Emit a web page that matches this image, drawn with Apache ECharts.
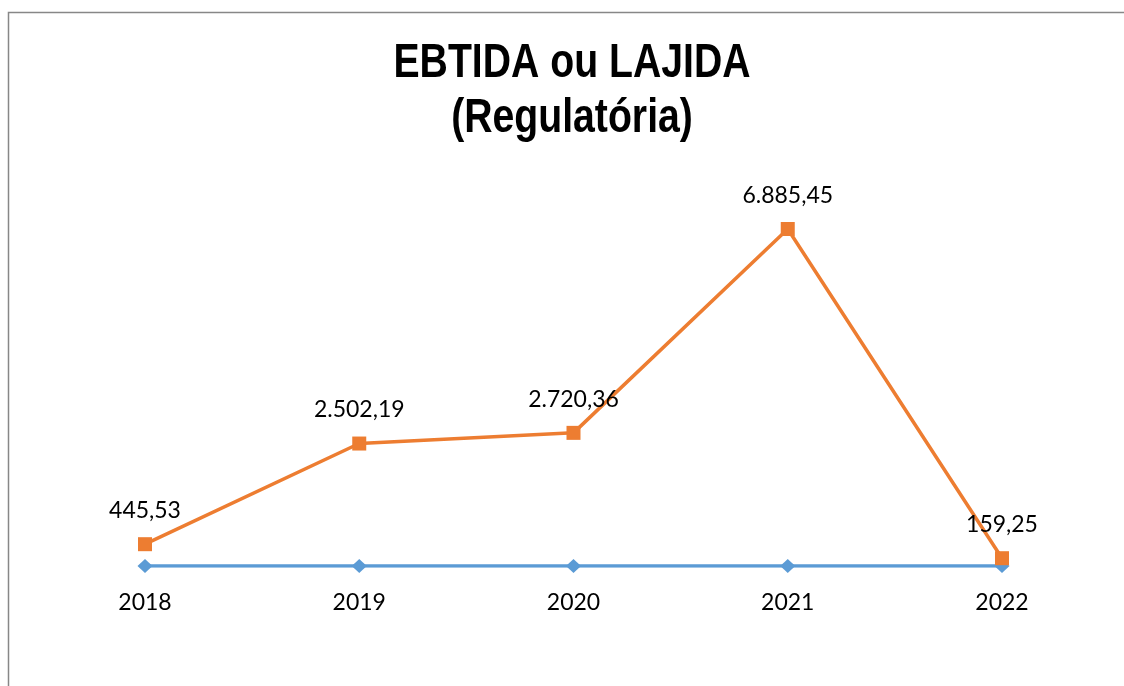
<!DOCTYPE html>
<html>
<head>
<meta charset="utf-8">
<script src="https://cdn.jsdelivr.net/npm/echarts@6/dist/echarts.min.js"></script>
<style>
  html, body { margin: 0; padding: 0; background: #fff; }
  #chart { width: 1124px; height: 686px; }
</style>
</head>
<body>
<div id="chart"></div>
<script>
const years = ['2018', '2019', '2020', '2021', '2022']
const lajida = [445.53, 2502.19, 2720.36, 6885.45, 159.25]
const baseline = [0, 0, 0, 0, 0]
const titleLines = ['EBTIDA ou LAJIDA', '(Regulatória)']

// 1234.5 -> "1.234,50"
function fmtBR (v) {
  const parts = v.toFixed(2).split('.')
  parts[0] = parts[0].replace(/\B(?=(\d{3})+(?!\d))/g, '.')
  return parts.join(',')
}

// condensed bold title, narrow font is not installed so squeeze it
const titleText = titleLines.map((t, i) => ({
  type: 'text',
  x: 572,
  y: 63 + i * 55,
  scaleX: 0.8,
  style: {
    text: t,
    font: 'bold 49px "Liberation Sans", Arial, sans-serif',
    fill: '#000',
    align: 'center',
    verticalAlign: 'middle'
  }
}))

const chart = echarts.init(document.getElementById('chart'))
chart.setOption({
  animation: false,
  graphic: [{
    type: 'polyline',
    shape: { points: [[8.5, 686], [8.5, 12.5], [1124, 12.5]] },
    style: { stroke: '#878787', lineWidth: 1.5, fill: null }
  }].concat(titleText),
  grid: { left: 145, right: 122, top: 223.4, bottom: 120 },
  xAxis: {
    type: 'category',
    data: years,
    boundaryGap: false,
    axisLine: { show: false },
    axisTick: { show: false },
    axisLabel: {
      margin: 25,
      fontFamily: 'Lato',
      fontSize: 23,
      color: '#000'
    }
  },
  yAxis: {
    type: 'value',
    min: 0,
    max: 7000,
    show: false,
    splitLine: { show: false }
  },
  series: [
    {
      type: 'line',
      data: baseline,
      symbol: 'diamond',
      symbolSize: [15, 14],
      lineStyle: { color: '#5B9BD5', width: 3.5 },
      itemStyle: { color: '#5B9BD5' }
    },
    {
      type: 'line',
      data: lajida,
      symbol: 'rect',
      symbolSize: 14,
      lineStyle: { color: '#ED7D31', width: 3.5 },
      itemStyle: { color: '#ED7D31' },
      label: {
        show: true,
        position: 'top',
        distance: 15,
        fontFamily: 'Lato',
        fontSize: 23,
        color: '#000',
        formatter: p => fmtBR(p.value)
      }
    }
  ]
})
</script>
</body>
</html>
